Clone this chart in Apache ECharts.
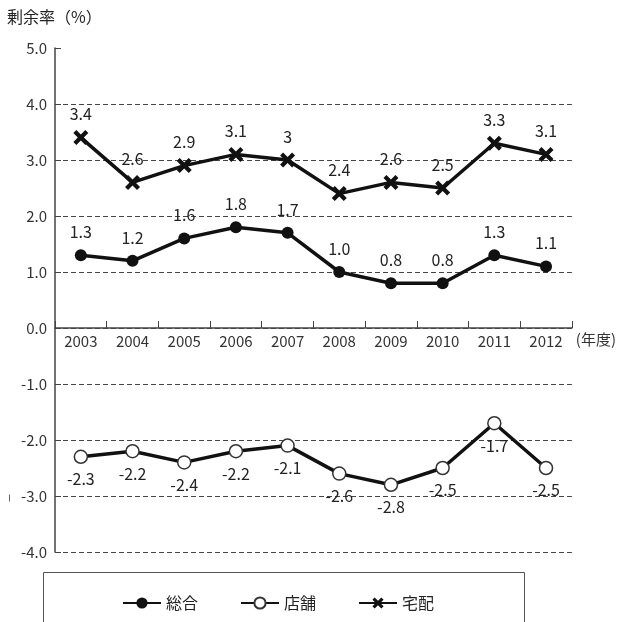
<!DOCTYPE html>
<html>
<head>
<meta charset="utf-8">
<script src="https://cdn.jsdelivr.net/npm/echarts@6/dist/echarts.min.js"></script>
<style>
  html, body { margin: 0; padding: 0; background: #fff; }
  #chart { width: 619px; height: 622px; }
</style>
</head>
<body>
<div id="chart"></div>
<script>
// 年度
const years = ['2003', '2004', '2005', '2006', '2007', '2008', '2009', '2010', '2011', '2012'];
// 剰余率（%）
const sogo = [1.3, 1.2, 1.6, 1.8, 1.7, 1.0, 0.8, 0.8, 1.3, 1.1];
const tenpo = [-2.3, -2.2, -2.4, -2.2, -2.1, -2.6, -2.8, -2.5, -1.7, -2.5];
const takuhai = [3.4, 2.6, 2.9, 3.1, 3, 2.4, 2.6, 2.5, 3.3, 3.1];
const seriesNames = ['総合', '店舗', '宅配'];

const Y_MIN = -4, Y_MAX = 5;
const GRID = { left: 55, right: 47, top: 48, bottom: 70 };
const CHART_H = 622;
// the category axis sits on the zero line: shift it up from the grid bottom
const gridH = CHART_H - GRID.top - GRID.bottom;
const zeroOffset = -gridH * (0 - Y_MIN) / (Y_MAX - Y_MIN);

const FONT = '"Noto Sans CJK JP", "Noto Sans", sans-serif';
const crossPath = 'path://M2,0 L5,3 L8,0 L10,2 L7,5 L10,8 L8,10 L5,7 L2,10 L0,8 L3,5 L0,2 Z';

const chart = echarts.init(document.getElementById('chart'));

const labelStyle = { color: '#222', fontSize: 16, fontFamily: FONT };

chart.setOption({
  animation: false,
  backgroundColor: '#fff',
  textStyle: { fontFamily: FONT },
  graphic: [
    {
      type: 'text', left: 7, top: 9,
      style: { text: '剰余率（%）', fontSize: 16, fill: '#222', fontFamily: FONT }
    },
    {
      type: 'rect', left: 41, top: 570,
      shape: { width: 481, height: 70 },
      style: { fill: 'none', stroke: '#555', lineWidth: 1 }
    },
    {
      type: 'line', left: 7, top: 492,
      shape: { x1: 0, y1: 0, x2: 0, y2: 7 },
      style: { stroke: '#666', lineWidth: 1 }
    }
  ],
  grid: { left: GRID.left, right: GRID.right, top: GRID.top, bottom: GRID.bottom, containLabel: false },
  legend: {
    data: seriesNames,
    left: 117, top: 590,
    itemWidth: 38, itemHeight: 14, itemGap: 42,
    textStyle: { fontSize: 16, color: '#222', fontFamily: FONT }
  },
  xAxis: {
    type: 'category',
    data: years,
    boundaryGap: true,
    position: 'bottom',
    offset: zeroOffset,
    name: '(年度)',
    nameLocation: 'end',
    nameGap: 4,
    nameTextStyle: { fontSize: 15, color: '#333', verticalAlign: 'top', padding: [4, 0, 0, 0] },
    axisLine: { onZero: false, lineStyle: { color: '#444', width: 1.5 } },
    axisTick: { show: true, inside: true, length: 7, lineStyle: { color: '#444' } },
    axisLabel: { fontSize: 15, color: '#333', margin: 6 }
  },
  yAxis: {
    type: 'value',
    min: Y_MIN, max: Y_MAX, interval: 1,
    axisLine: { show: true, lineStyle: { color: '#444', width: 1.5 } },
    axisTick: { show: true, inside: true, length: 6, lineStyle: { color: '#444' } },
    axisLabel: {
      fontSize: 15, color: '#333', margin: 8,
      formatter: v => v.toFixed(1)
    },
    splitLine: {
      show: true, showMaxLine: false,
      lineStyle: { color: '#444', type: [5, 3], width: 1 }
    }
  },
  series: [
    {
      name: '総合', type: 'line', data: sogo,
      symbol: 'circle', symbolSize: 12,
      lineStyle: { color: '#111', width: 3.5 },
      itemStyle: { color: '#111' },
      label: { show: true, position: 'top', distance: 9, formatter: p => p.value.toFixed(1), ...labelStyle },
      z: 3
    },
    {
      name: '店舗', type: 'line', data: tenpo,
      symbol: 'circle', symbolSize: 13,
      lineStyle: { color: '#111', width: 3.5 },
      itemStyle: { color: '#fff', borderColor: '#333', borderWidth: 1.5 },
      label: { show: true, position: 'bottom', distance: 7, formatter: p => p.value.toFixed(1), ...labelStyle },
      z: 3
    },
    {
      name: '宅配', type: 'line', data: takuhai,
      symbol: crossPath, symbolSize: 15,
      lineStyle: { color: '#111', width: 3.5 },
      itemStyle: { color: '#111' },
      label: { show: true, position: 'top', distance: 8, formatter: p => String(p.value), ...labelStyle },
      z: 3
    }
  ]
});
</script>
</body>
</html>
